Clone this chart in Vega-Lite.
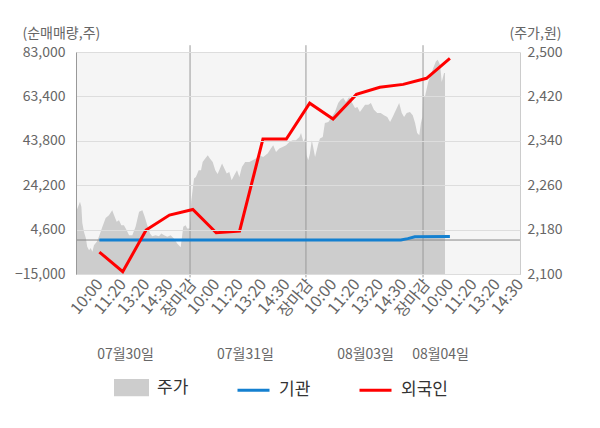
{
  "$schema": "https://vega.github.io/schema/vega-lite/v6.json",
  "width": 444,
  "height": 222,
  "autosize": "none",
  "padding": {"left": 76, "top": 52, "right": 80, "bottom": 154},
  "config": {
    "font": "Noto Sans CJK KR",
    "view": {"stroke": null, "fill": "#f5f5f5"},
    "axis": {
      "labelFont": "Noto Sans CJK KR",
      "titleFont": "Noto Sans CJK KR",
      "labelFontSize": 14,
      "labelColor": "#666666",
      "titleColor": "#666666",
      "titleFontSize": 14,
      "titleFontWeight": "normal",
      "ticks": false,
      "grid": false,
      "domainColor": "#999999"
    }
  },
  "datasets": {
    "price": [
      {"t": -1.00, "p": 2212}, {"t": -0.91, "p": 2221}, {"t": -0.83, "p": 2230}, {"t": -0.77, "p": 2221},
      {"t": -0.73, "p": 2192}, {"t": -0.66, "p": 2176}, {"t": -0.58, "p": 2165}, {"t": -0.52, "p": 2149},
      {"t": -0.44, "p": 2143}, {"t": -0.37, "p": 2147}, {"t": -0.30, "p": 2140}, {"t": -0.23, "p": 2152},
      {"t": -0.11, "p": 2158}, {"t": -0.02, "p": 2167}, {"t": 0.13, "p": 2185}, {"t": 0.27, "p": 2201},
      {"t": 0.41, "p": 2206}, {"t": 0.55, "p": 2215}, {"t": 0.63, "p": 2206}, {"t": 0.74, "p": 2194},
      {"t": 0.84, "p": 2197}, {"t": 0.94, "p": 2188}, {"t": 1.05, "p": 2188}, {"t": 1.17, "p": 2179},
      {"t": 1.27, "p": 2170}, {"t": 1.41, "p": 2170}, {"t": 1.55, "p": 2185}, {"t": 1.70, "p": 2212},
      {"t": 1.84, "p": 2215}, {"t": 1.94, "p": 2203}, {"t": 2.05, "p": 2188}, {"t": 2.17, "p": 2173},
      {"t": 2.26, "p": 2168}, {"t": 2.41, "p": 2170}, {"t": 2.55, "p": 2168}, {"t": 2.65, "p": 2173},
      {"t": 2.77, "p": 2170}, {"t": 2.91, "p": 2167}, {"t": 3.05, "p": 2170}, {"t": 3.19, "p": 2164},
      {"t": 3.33, "p": 2155}, {"t": 3.48, "p": 2148}, {"t": 3.59, "p": 2185}, {"t": 3.69, "p": 2188},
      {"t": 3.76, "p": 2182}, {"t": 3.87, "p": 2182}, {"t": 3.93, "p": 2230}, {"t": 4.05, "p": 2272},
      {"t": 4.13, "p": 2275}, {"t": 4.25, "p": 2287}, {"t": 4.35, "p": 2287}, {"t": 4.42, "p": 2302},
      {"t": 4.53, "p": 2308}, {"t": 4.64, "p": 2314}, {"t": 4.73, "p": 2308}, {"t": 4.85, "p": 2302},
      {"t": 4.96, "p": 2287}, {"t": 5.06, "p": 2280}, {"t": 5.16, "p": 2290}, {"t": 5.25, "p": 2299},
      {"t": 5.35, "p": 2290}, {"t": 5.45, "p": 2281}, {"t": 5.56, "p": 2284}, {"t": 5.66, "p": 2269},
      {"t": 5.77, "p": 2278}, {"t": 5.89, "p": 2287}, {"t": 5.99, "p": 2275}, {"t": 6.10, "p": 2293},
      {"t": 6.24, "p": 2302}, {"t": 6.42, "p": 2302}, {"t": 6.56, "p": 2305}, {"t": 6.70, "p": 2308},
      {"t": 6.84, "p": 2314}, {"t": 7.01, "p": 2311}, {"t": 7.20, "p": 2317}, {"t": 7.34, "p": 2326},
      {"t": 7.44, "p": 2332}, {"t": 7.56, "p": 2320}, {"t": 7.70, "p": 2326}, {"t": 7.84, "p": 2329},
      {"t": 7.99, "p": 2332}, {"t": 8.13, "p": 2338}, {"t": 8.27, "p": 2341}, {"t": 8.41, "p": 2341},
      {"t": 8.56, "p": 2347}, {"t": 8.63, "p": 2354}, {"t": 8.73, "p": 2338}, {"t": 8.81, "p": 2345},
      {"t": 8.87, "p": 2314}, {"t": 8.94, "p": 2305}, {"t": 9.01, "p": 2317}, {"t": 9.09, "p": 2341},
      {"t": 9.15, "p": 2329}, {"t": 9.23, "p": 2311}, {"t": 9.30, "p": 2323}, {"t": 9.37, "p": 2335},
      {"t": 9.44, "p": 2344}, {"t": 9.56, "p": 2347}, {"t": 9.65, "p": 2372}, {"t": 9.80, "p": 2374},
      {"t": 9.94, "p": 2383}, {"t": 10.08, "p": 2392}, {"t": 10.22, "p": 2408}, {"t": 10.33, "p": 2414},
      {"t": 10.44, "p": 2417}, {"t": 10.55, "p": 2410}, {"t": 10.69, "p": 2419}, {"t": 10.80, "p": 2410},
      {"t": 10.94, "p": 2399}, {"t": 11.04, "p": 2401}, {"t": 11.15, "p": 2392}, {"t": 11.27, "p": 2399},
      {"t": 11.37, "p": 2405}, {"t": 11.51, "p": 2405}, {"t": 11.62, "p": 2408}, {"t": 11.75, "p": 2396},
      {"t": 11.89, "p": 2390}, {"t": 12.04, "p": 2390}, {"t": 12.18, "p": 2386}, {"t": 12.32, "p": 2383},
      {"t": 12.44, "p": 2374}, {"t": 12.55, "p": 2383}, {"t": 12.65, "p": 2392}, {"t": 12.75, "p": 2401},
      {"t": 12.83, "p": 2408}, {"t": 12.94, "p": 2390}, {"t": 13.04, "p": 2383}, {"t": 13.15, "p": 2390},
      {"t": 13.29, "p": 2392}, {"t": 13.41, "p": 2386}, {"t": 13.51, "p": 2372}, {"t": 13.60, "p": 2354},
      {"t": 13.69, "p": 2350}, {"t": 13.76, "p": 2372}, {"t": 13.82, "p": 2383}, {"t": 13.86, "p": 2423},
      {"t": 13.93, "p": 2419}, {"t": 14.07, "p": 2446}, {"t": 14.18, "p": 2459}, {"t": 14.29, "p": 2471},
      {"t": 14.40, "p": 2483}, {"t": 14.48, "p": 2486}, {"t": 14.58, "p": 2477}, {"t": 14.65, "p": 2446},
      {"t": 14.75, "p": 2462}, {"t": 14.79, "p": 2462}
    ],
    "flow": [
      {"s": "기관", "t": 0, "v": 0}, {"s": "기관", "t": 12.9, "v": 0}, {"s": "기관", "t": 13.2, "v": 600},
      {"s": "기관", "t": 13.5, "v": 1400}, {"s": "기관", "t": 15, "v": 1500},
      {"s": "외국인", "t": 0, "v": -5300}, {"s": "외국인", "t": 1, "v": -14000}, {"s": "외국인", "t": 2, "v": 4400},
      {"s": "외국인", "t": 3, "v": 11000}, {"s": "외국인", "t": 4, "v": 13500}, {"s": "외국인", "t": 5, "v": 3200},
      {"s": "외국인", "t": 6, "v": 3900}, {"s": "외국인", "t": 7, "v": 44600}, {"s": "외국인", "t": 8, "v": 44600},
      {"s": "외국인", "t": 9, "v": 60400}, {"s": "외국인", "t": 10, "v": 53400}, {"s": "외국인", "t": 11, "v": 64300},
      {"s": "외국인", "t": 12, "v": 67400}, {"s": "외국인", "t": 13, "v": 68700}, {"s": "외국인", "t": 14, "v": 71400},
      {"s": "외국인", "t": 15, "v": 80200}
    ],
    "days": [{"t": 3.88}, {"t": 8.84}, {"t": 13.85}],
    "zero": [{"v": 0}]
  },
  "layer": [
    {
      "data": {"name": "price"},
      "mark": {"type": "area", "interpolate": "linear"},
      "encoding": {
        "x": {
          "field": "t", "type": "quantitative",
          "scale": {"domain": [-1, 18], "nice": false, "zero": false},
          "axis": {
            "orient": "bottom", "title": null,
            "values": [0, 1, 2, 3, 4, 5, 6, 7, 8, 9, 10, 11, 12, 13, 14, 15, 16, 17, 18],
            "labelExpr": "['10:00','11:20','13:20','14:30','장마감'][datum.value % 5]",
            "labelAngle": -50, "labelPadding": 7, "labelFontSize": 16, "labelOverlap": false,
            "encode": {"labels": {"update": {"fill": {"signal": "datum.value % 5 === 4 ? '#ff0000' : (datum.value === 15 ? '#222222' : '#777777')"}}}}
          }
        },
        "y": {
          "field": "p", "type": "quantitative",
          "scale": {"domain": [2100, 2500], "nice": false, "zero": false},
          "axis": {
            "orient": "right",
            "values": [2100, 2180, 2260, 2340, 2420, 2500],
            "format": ",d", "labelPadding": 7, "domainColor": "#cccccc",
            "title": "(주가,원)", "titleAngle": 0, "titleAlign": "left", "titleBaseline": "middle",
            "titleX": -11, "titleY": -19
          }
        },
        "y2": {"datum": 2100},
        "color": {
          "datum": "주가", "type": "nominal",
          "scale": {"domain": ["주가", "기관", "외국인"], "range": ["#cdcdcd", "#1480d0", "#ff0000"]},
          "legend": {
            "orient": "none", "legendX": 38, "legendY": 318, "direction": "horizontal",
            "title": null, "padding": 0, "columnPadding": 42,
            "labelFont": "Noto Sans CJK KR", "labelFontSize": 17, "labelColor": "#333333", "labelOffset": 8,
            "symbolSize": 1024, "symbolStrokeWidth": 3,
            "encode": {
              "symbols": {
                "update": {
                  "shape": {"signal": "datum.value === '주가' ? 'M-1,-0.45H1V0.45H-1Z' : 'stroke'"},
                  "fill": {"signal": "datum.value === '주가' ? '#cdcdcd' : 'transparent'"},
                  "stroke": {"signal": "datum.value === '기관' ? '#1480d0' : (datum.value === '외국인' ? '#ff0000' : 'transparent')"},
                  "strokeWidth": {"value": 3},
                  "opacity": {"value": 1}
                }
              }
            }
          }
        }
      }
    },
    {
      "data": {"name": "days"},
      "mark": {"type": "rule", "color": "#999999", "strokeWidth": 1},
      "encoding": {
        "x": {
          "field": "t", "type": "quantitative",
          "axis": {
            "orient": "bottom", "title": null, "domain": false, "ticks": false, "grid": false,
            "values": [1.1, 6.23, 11.37, 14.58],
            "labelExpr": "datum.value < 3 ? '07월30일' : (datum.value < 8 ? '07월31일' : (datum.value < 13 ? '08월03일' : '08월04일'))",
            "labelAngle": 0, "labelAlign": "center", "offset": 69, "labelPadding": 4, "labelOverlap": false,
            "labelColor": "#666666", "labelFontSize": 14
          }
        },
        "y": {
          "datum": 86000, "type": "quantitative", "axis": null,
          "scale": {"domain": [-15000, 83000], "nice": false, "zero": false}
        },
        "y2": {"datum": -16500}
      }
    },
    {
      "data": {"name": "zero"},
      "mark": {"type": "rule", "color": "#888888", "strokeWidth": 1},
      "encoding": {
        "y": {
          "field": "v", "type": "quantitative",
          "scale": {"domain": [-15000, 83000], "nice": false, "zero": false},
          "axis": {
            "orient": "left",
            "values": [-15000, 4600, 24200, 43800, 63400, 83000],
            "format": ",d", "labelPadding": 11,
            "grid": true, "gridColor": "#dddddd", "zindex": 1,
            "title": "(순매매량,주)", "titleAngle": 0, "titleAlign": "left", "titleBaseline": "middle",
            "titleX": -54, "titleY": -19
          }
        }
      }
    },
    {
      "data": {"name": "flow"},
      "transform": [{"filter": "datum.s === '기관'"}],
      "mark": {"type": "line", "strokeWidth": 3},
      "encoding": {
        "x": {"field": "t", "type": "quantitative", "axis": null},
        "y": {
          "field": "v", "type": "quantitative", "axis": null,
          "scale": {"domain": [-15000, 83000], "nice": false, "zero": false}
        },
        "color": {"field": "s", "type": "nominal", "legend": null}
      }
    },
    {
      "data": {"name": "flow"},
      "transform": [{"filter": "datum.s === '외국인'"}],
      "mark": {"type": "line", "strokeWidth": 3},
      "encoding": {
        "x": {"field": "t", "type": "quantitative", "axis": null},
        "y": {
          "field": "v", "type": "quantitative", "axis": null,
          "scale": {"domain": [-15000, 83000], "nice": false, "zero": false}
        },
        "color": {"field": "s", "type": "nominal", "legend": null}
      }
    }
  ],
  "resolve": {"scale": {"y": "independent"}, "axis": {"x": "independent"}}
}
